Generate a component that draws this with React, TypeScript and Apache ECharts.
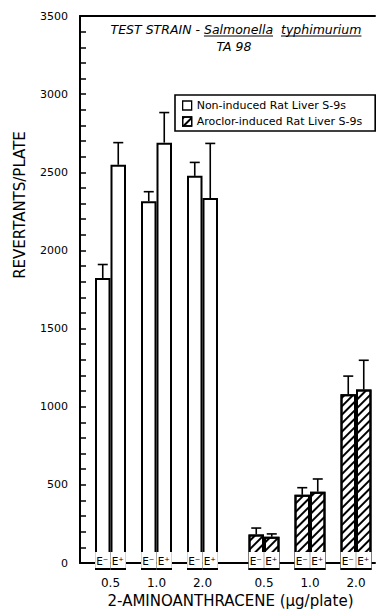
import React, { useEffect, useRef } from 'react';
import * as echarts from 'echarts';

// ---- data ----
const doses = ['0.5', '1.0', '2.0'];
const conditionNames = ['Non-induced Rat Liver S-9s', 'Aroclor-induced Rat Liver S-9s'];
const nonInducedEMinus = [1845, 2330, 2490];
const nonInducedEMinusErrTop = [1930, 2390, 2575];
const nonInducedEPlus = [2560, 2700, 2350];
const nonInducedEPlusErrTop = [2700, 2890, 2695];
const aroclorEMinus = [225, 475, 1110];
const aroclorEMinusErrTop = [265, 520, 1225];
const aroclorEPlus = [210, 495, 1140];
const aroclorEPlusErrTop = [228, 575, 1325];
const yMin = 0;
const yMax = 3500;
const yMinorStep = 100;
const yLabelStep = 500;
const barLabels = ['E\u207B', 'E\u207A'];
const titleParts = ['TEST STRAIN - ', 'Salmonella', '  ', 'typhimurium'];
const titleUnderlined = [false, true, false, true];
const subtitle = 'TA 98';
const xTitle = '2-AMINOANTHRACENE (\u00B5g/plate)';
const yTitle = 'REVERTANTS/PLATE';

const FONT = 'DejaVu Sans';
const BAR_W = 15.5;

function measure(text: string, font: string): number {
  const ctx = document.createElement('canvas').getContext('2d');
  if (!ctx) return text.length * 7;
  ctx.font = font;
  return ctx.measureText(text).width;
}

function errData(tops: number[], vals: number[], side: number) {
  return vals.map((v, i) => [i, v, tops[i], side]);
}

const errRender = (params: any, api: any) => {
  const idx = api.value(0);
  const v = api.value(1);
  const top = api.value(2);
  const side = api.value(3);
  const p0 = api.coord([idx, v]);
  const p1 = api.coord([idx, top]);
  const x = p0[0] + side * (BAR_W / 2);
  const st = { stroke: '#000', lineWidth: 1.6 };
  return {
    type: 'group',
    children: [
      { type: 'line', shape: { x1: x, y1: p0[1], x2: x, y2: p1[1] }, style: st },
      { type: 'line', shape: { x1: x - 5, y1: p1[1], x2: x + 5, y2: p1[1] }, style: st },
    ],
  };
};

export default function App() {
  const ref = useRef<HTMLDivElement>(null);
  useEffect(() => {
    document.body.style.margin = '0';
    if (!ref.current) return;
    const chart = echarts.init(ref.current, undefined, { renderer: 'svg' });

    const hatch = {
      symbol: 'rect',
      color: '#000',
      backgroundColor: '#fff',
      dashArrayX: [1, 0],
      dashArrayY: [1.3, 3.7],
      rotation: -Math.PI / 4,
      symbolSize: 1,
    };

    const plainStyle = { color: '#fff', borderColor: '#000', borderWidth: 2 };
    const hatchStyle = { color: '#fff', borderColor: '#000', borderWidth: 2, decal: hatch };

    const barLabel = (txt: string) => ({
      show: true,
      position: 'insideBottom',
      distance: 2,
      formatter: txt,
      color: '#000',
      fontFamily: FONT,
      fontSize: 10.5,
      backgroundColor: '#fff',
      padding: [3, 2, 2, 1],
    });

    // title layout
    const tFont = `italic 12.5px "${FONT}"`;
    const widths = titleParts.map((t) => measure(t, tFont));
    const total = widths.reduce((a, b) => a + b, 0);
    let cx = 236 - total / 2;
    const titleEls: any[] = [];
    titleParts.forEach((t, i) => {
      titleEls.push({
        type: 'text',
        x: cx,
        y: 29,
        style: {
          text: t,
          font: tFont,
          fill: '#000',
          textAlign: 'left',
          textVerticalAlign: 'middle',
        },
      });
      if (titleUnderlined[i]) {
        titleEls.push({
          type: 'line',
          shape: { x1: cx, y1: 36, x2: cx + widths[i], y2: 36 },
          style: { stroke: '#000', lineWidth: 1 },
        });
      }
      cx += widths[i];
    });

    const hiddenY = (gi: number) => ({
      type: 'value',
      gridIndex: gi,
      min: yMin,
      max: yMax,
      show: false,
    });

    const catX = (gi: number) => ({
      type: 'category',
      gridIndex: gi,
      data: doses,
      axisLine: { show: false },
      axisTick: { show: false },
      axisLabel: { color: '#000', fontFamily: FONT, fontSize: 12, margin: 7 },
    });

    chart.setOption({
      animation: false,
      backgroundColor: '#fff',
      textStyle: { fontFamily: FONT },
      grid: [
        { left: 80, top: 16, width: 295, height: 554 },
        { left: 87.5, top: 16, width: 138, height: 554 },
        { left: 241, top: 16, width: 139.5, height: 554 },
      ],
      xAxis: [
        {
          type: 'value',
          gridIndex: 0,
          min: 0,
          max: 1,
          axisLine: { show: true, lineStyle: { color: '#000', width: 2 } },
          axisTick: { show: false },
          axisLabel: { show: false },
          splitLine: { show: false },
          name: xTitle,
          nameLocation: 'middle',
          nameGap: 30,
          nameTextStyle: { color: '#000', fontFamily: FONT, fontSize: 15, padding: [0, 0, 0, 6] },
        },
        {
          type: 'value',
          gridIndex: 0,
          position: 'top',
          min: 0,
          max: 1,
          axisLine: { show: true, lineStyle: { color: '#000', width: 2 } },
          axisTick: { show: false },
          axisLabel: { show: false },
          splitLine: { show: false },
        },
        catX(1),
        catX(2),
      ],
      yAxis: [
        {
          type: 'value',
          gridIndex: 0,
          min: yMin,
          max: yMax,
          interval: yMinorStep,
          axisLine: { show: true, lineStyle: { color: '#000', width: 2 } },
          axisTick: { show: true, inside: true, length: 6, lineStyle: { color: '#000', width: 1.5 } },
          axisLabel: {
            color: '#000',
            fontFamily: FONT,
            fontSize: 11,
            margin: 12,
            formatter: (v: number) => (v % yLabelStep === 0 ? String(v) : ''),
          },
          splitLine: { show: false },
        },
        hiddenY(1),
        hiddenY(2),
      ],
      legend: {
        data: [
          { name: conditionNames[0], icon: 'rect' },
          { name: conditionNames[1], icon: 'rect' },
        ],
        orient: 'vertical',
        left: 175,
        top: 95,
        itemWidth: 9,
        itemHeight: 9,
        itemGap: 5,
        padding: [5, 13, 4, 7],
        borderColor: '#000',
        borderWidth: 1.6,
        backgroundColor: '#fff',
        textStyle: { color: '#000', fontFamily: FONT, fontSize: 11 },
        itemStyle: { borderColor: '#000', borderWidth: 1.3 },
      },
      graphic: [
        ...titleEls,
        {
          type: 'text',
          x: 234,
          y: 46,
          style: {
            text: subtitle,
            font: tFont,
            fill: '#000',
            textAlign: 'center',
            textVerticalAlign: 'middle',
          },
        },
        {
          type: 'text',
          x: 20,
          y: 205,
          rotation: Math.PI / 2,
          style: {
            text: yTitle,
            font: `15px "${FONT}"`,
            fill: '#000',
            textAlign: 'center',
            textVerticalAlign: 'middle',
          },
        },
      ],
      series: [
        {
          name: conditionNames[0],
          type: 'bar',
          xAxisIndex: 2,
          yAxisIndex: 1,
          data: nonInducedEMinus,
          barWidth: BAR_W,
          barGap: '0%',
          itemStyle: plainStyle,
          label: barLabel(barLabels[0]),
        },
        {
          name: conditionNames[0],
          type: 'bar',
          xAxisIndex: 2,
          yAxisIndex: 1,
          data: nonInducedEPlus,
          barWidth: BAR_W,
          barGap: '0%',
          itemStyle: plainStyle,
          label: barLabel(barLabels[1]),
        },
        {
          name: conditionNames[1],
          type: 'bar',
          xAxisIndex: 3,
          yAxisIndex: 2,
          data: aroclorEMinus,
          barWidth: BAR_W,
          barGap: '0%',
          itemStyle: hatchStyle,
          label: barLabel(barLabels[0]),
        },
        {
          name: conditionNames[1],
          type: 'bar',
          xAxisIndex: 3,
          yAxisIndex: 2,
          data: aroclorEPlus,
          barWidth: BAR_W,
          barGap: '0%',
          itemStyle: hatchStyle,
          label: barLabel(barLabels[1]),
        },
        {
          name: 'err-non-minus',
          type: 'custom',
          xAxisIndex: 2,
          yAxisIndex: 1,
          z: 5,
          renderItem: errRender,
          data: errData(nonInducedEMinusErrTop, nonInducedEMinus, -1),
        },
        {
          name: 'err-non-plus',
          type: 'custom',
          xAxisIndex: 2,
          yAxisIndex: 1,
          z: 5,
          renderItem: errRender,
          data: errData(nonInducedEPlusErrTop, nonInducedEPlus, 1),
        },
        {
          name: 'err-aro-minus',
          type: 'custom',
          xAxisIndex: 3,
          yAxisIndex: 2,
          z: 5,
          renderItem: errRender,
          data: errData(aroclorEMinusErrTop, aroclorEMinus, -1),
        },
        {
          name: 'err-aro-plus',
          type: 'custom',
          xAxisIndex: 3,
          yAxisIndex: 2,
          z: 5,
          renderItem: errRender,
          data: errData(aroclorEPlusErrTop, aroclorEPlus, 1),
        },
      ],
    });
    return () => chart.dispose();
  }, []);
  return <div ref={ref} style={{ width: 379, height: 613 }} />;
}
